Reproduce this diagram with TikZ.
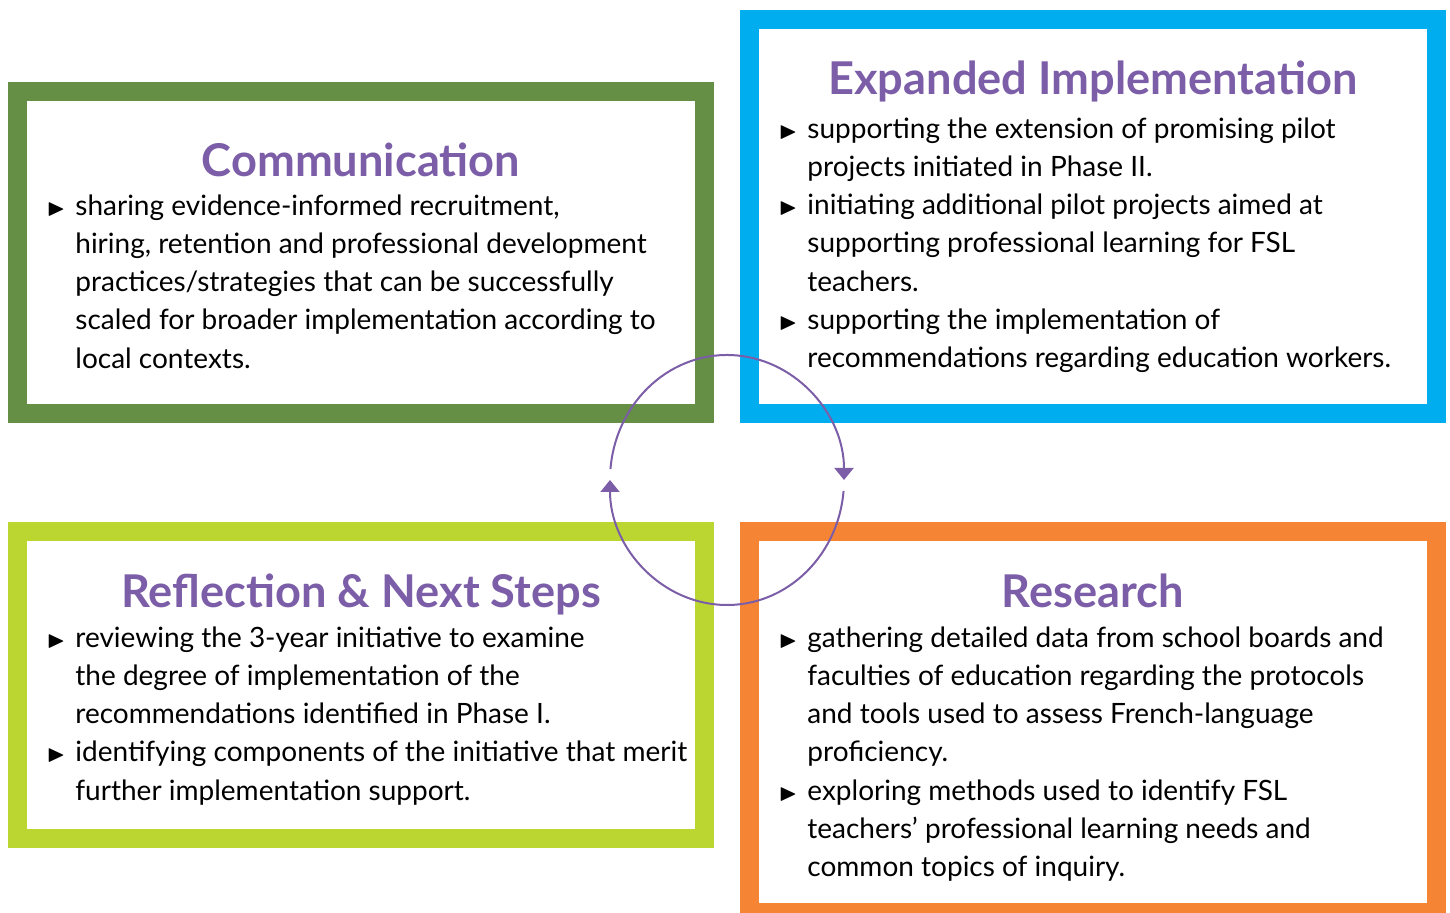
\documentclass[tikz,border=0pt]{standalone}
\usepackage{amssymb}
\usepackage{fontspec}
\setmainfont{Lato}
\usetikzlibrary{arrows.meta,positioning}

\definecolor{commgreen}{HTML}{648F44}
\definecolor{expblue}{HTML}{00AEEF}
\definecolor{reflime}{HTML}{BBD531}
\definecolor{resorange}{HTML}{F58534}
\definecolor{headpurple}{HTML}{7B5EA7}

\newcommand{\itm}{\llap{\scalebox{0.85}{$\blacktriangleright$}\hspace{5pt}}}

\tikzset{
  frame/.style={draw=#1, line width=9.5pt},
  heading/.style={font=\fontsize{22.6}{25}\selectfont\bfseries, text=headpurple, inner sep=0pt, anchor=base},
  body/.style={font=\fontsize{14}{19.15}\selectfont, align=left, inner sep=0pt, anchor=north west},
  cyclearrow/.style={draw=headpurple, line width=1pt, -{Triangle[width=9.5pt,length=6pt]}}
}

\begin{document}
\begin{tikzpicture}[x=0.5pt,y=-0.5pt]
  \useasboundingbox (0,0) rectangle (1450,913);
  % the four frames
  \draw[frame=commgreen] (17.5,91.5) rectangle (704,414);
  \draw[frame=expblue] (749.5,19.5) rectangle (1436.5,414);
  \draw[frame=reflime] (17.5,531.5) rectangle (704,838);
  \draw[frame=resorange] (749.5,531.5) rectangle (1436.5,912.5);

  % communication
  \node[heading] (commtitle) at (361,177) {Communication};
  \node[body] (commtext) at (75,194) {\itm sharing evidence-informed recruitment,\\
    hiring, retention and professional development\\
    practices/strategies that can be successfully\\
    scaled for broader implementation according to\\
    local contexts.};

  % expanded implementation
  \node[heading] (exptitle) at (1093,95) {Expanded Implementation};
  \node[body] (exptext) at (807,117) {\itm supporting the extension of promising pilot\\
    projects initiated in Phase II.\\
    \itm initiating additional pilot projects aimed at\\
    supporting professional learning for FSL\\
    teachers.\\
    \itm supporting the implementation of\\
    recommendations regarding education workers.};

  % reflection
  \node[heading] (reftitle) at (361,608) {Reflection \& Next Steps};
  \node[body] (reftext) at (75,626) {\itm reviewing the 3-year initiative to examine\\
    the degree of implementation of the\\
    recommendations identified in Phase I.\\
    \itm identifying components of the initiative that merit\\
    further implementation support.};

  % research
  \node[heading] (restitle) at (1093,608) {Research};
  \node[body] (restext) at (807,626) {\itm gathering detailed data from school boards and\\
    faculties of education regarding the protocols\\
    and tools used to assess French-language\\
    proficiency.\\
    \itm exploring methods used to identify FSL\\
    teachers’ professional learning needs and\\
    common topics of inquiry.};

  % cycle
  \coordinate (hub) at (727,480);
  \draw[cyclearrow] (hub) ++(185:117 and 125) arc[start angle=185, end angle=360, x radius=117, y radius=125];
  \draw[cyclearrow] (hub) ++(5:117 and 125) arc[start angle=5, end angle=180, x radius=117, y radius=125];
\end{tikzpicture}
\end{document}
